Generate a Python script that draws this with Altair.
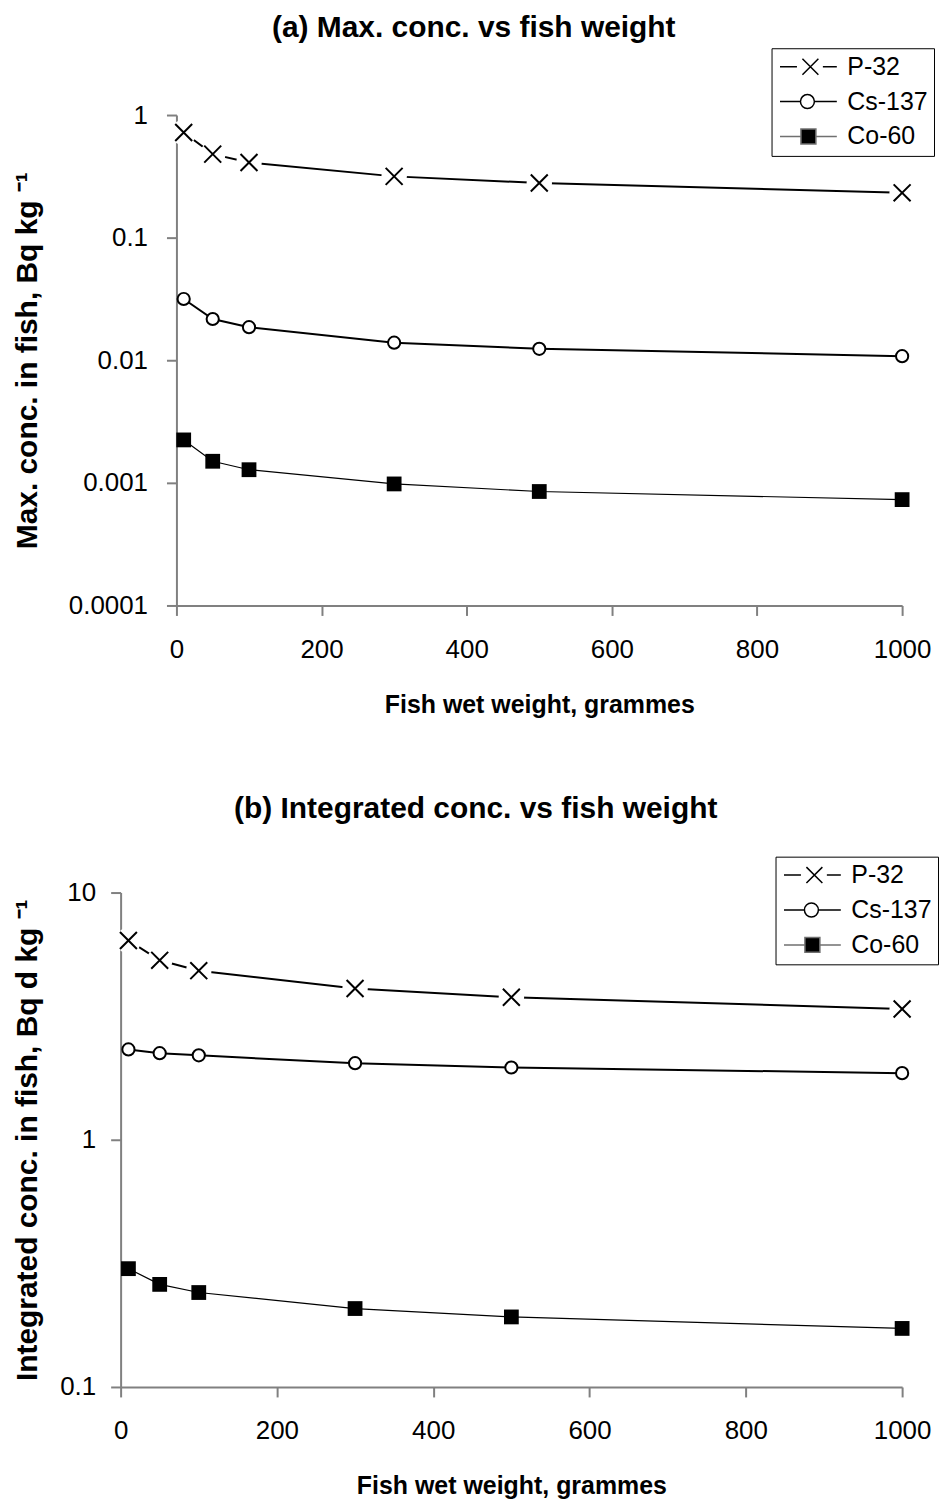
import altair as alt
import pandas as pd

# ---------------- data ----------------
weights = [10, 50, 100, 300, 500, 1000]
series_names = ["P-32", "Cs-137", "Co-60"]

max_p32 = [0.72, 0.48, 0.41, 0.316, 0.279, 0.232]
max_cs137 = [0.0316, 0.0217, 0.0186, 0.0139, 0.0124, 0.0108]
max_co60 = [0.00224, 0.00150, 0.00128, 0.00098, 0.00085, 0.00073]

int_p32 = [6.40, 5.32, 4.83, 4.09, 3.77, 3.38]
int_cs137 = [2.32, 2.24, 2.195, 2.04, 1.96, 1.86]
int_co60 = [0.301, 0.260, 0.241, 0.2076, 0.192, 0.1725]

x_ticks = [0, 200, 400, 600, 800, 1000]
y_ticks_a = [0.0001, 0.001, 0.01, 0.1, 1]
y_ticks_b = [0.1, 1, 10]

FONT = "Liberation Sans"
X_PATH = "M-1,-1L1,1M-1,1L1,-1"
# legend glyphs: line + marker, drawn in units of 10 px starting at x=-1
LEG_P = "M-1,0L0.7,0M3.3,0L4.7,0M1.25,-0.8L2.85,0.8M1.25,0.8L2.85,-0.8"
LEG_C = "M-1,0L1.05,0M2.45,0L4.7,0M1.05,0A0.7,0.7,0,1,1,2.45,0A0.7,0.7,0,1,1,1.05,0Z"
LEG_S = "M-1,0L1.1,0M2.6,0L4.7,0M1.1,-0.75L2.6,-0.75L2.6,0.75L1.1,0.75Z"


def make_df(p, c, s):
    rows = []
    for name, vals in zip(series_names, [p, c, s]):
        for w, v in zip(weights, vals):
            rows.append({"w": w, "v": v, "series": name})
    return pd.DataFrame(rows)


def panel(df, ydomain, yticks, ytitle, title_x, title_y, ylabpad, w, h, xrange,
          yoffset, title, title_offset, legx, legy):
    x = alt.X("w:Q", scale=alt.Scale(domain=[0, 1000], nice=False, zero=False, range=xrange),
              axis=alt.Axis(values=x_ticks, format="d", title="Fish wet weight, grammes",
                            titleY=107, titleBaseline="alphabetic", tickSize=10,
                            labelPadding=21, labelFlush=False, labelOverlap=False))
    y = alt.Y("v:Q", scale=alt.Scale(type="log", domain=ydomain, nice=False),
              axis=alt.Axis(values=yticks, format="~g", title=ytitle, offset=yoffset,
                            titleX=title_x, titleY=title_y, titleAlign="center",
                            titleBaseline="alphabetic", titleAngle=270, titleFontSize=30,
                            tickSize=10, labelPadding=ylabpad, labelFlush=False,
                            labelOverlap=False))
    base = alt.Chart(df).encode(x=x, y=y)

    def sel(name):
        return base.transform_filter(alt.datum.series == name)

    line_p = sel("P-32").mark_line(color="black", strokeWidth=2)
    line_c = sel("Cs-137").mark_line(color="black", strokeWidth=2)
    line_s = sel("Co-60").mark_line(color="black", strokeWidth=1.2)
    gap = sel("P-32").mark_point(shape="circle", filled=True, fill="white",
                                 size=650, opacity=1, strokeWidth=0)
    mk_p = sel("P-32").mark_point(shape=X_PATH, size=289, color="black",
                                  strokeWidth=2, filled=False, opacity=1)
    mk_c = sel("Cs-137").mark_point(shape="circle", size=150, filled=True,
                                    fill="white", stroke="black", strokeWidth=2,
                                    opacity=1)
    mk_s = sel("Co-60").mark_point(shape="square", size=220, filled=True,
                                   color="black", opacity=1)

    leg = alt.Legend(title=None, orient="none", legendX=legx, legendY=legy,
                     symbolSize=400, symbolStrokeWidth=1.5, labelFontSize=25,
                     labelFont=FONT, labelColor="black", labelOffset=45,
                     strokeColor="black", fillColor="white", padding=6,
                     rowPadding=9, symbolOpacity=1)
    legend_layer = base.transform_filter(alt.datum.w < 0).mark_point(
        filled=True, strokeWidth=1.5
    ).encode(
        shape=alt.Shape("series:N", scale=alt.Scale(domain=series_names,
                                                     range=[LEG_P, LEG_C, LEG_S]),
                        legend=leg),
        fill=alt.Fill("series:N", scale=alt.Scale(domain=series_names,
                                                   range=["white", "white", "black"]),
                      legend=leg),
        stroke=alt.Stroke("series:N", scale=alt.Scale(domain=series_names,
                                                       range=["black", "black", "#707070"]),
                          legend=leg),
    )

    return alt.layer(line_p, line_c, line_s, gap, mk_p, mk_c, mk_s, legend_layer).properties(
        width=w, height=h,
        title=alt.TitleParams(text=title, font=FONT, fontSize=30, fontWeight="bold",
                              anchor="middle", frame="bounds", offset=title_offset,
                              color="black"),
    )


df_a = make_df(max_p32, max_cs137, max_co60)
df_b = make_df(int_p32, int_cs137, int_co60)

# panel (a): plot spans x 176..904, panel (b): x 120..904 (shared origin at 120)
panel_a = panel(df_a, [0.0001, 1], y_ticks_a, "Max. conc. in fish, Bq kg  \u207b\u00b9",
                -140, 246, 19, 784, 492, [56, 784], -56,
                "(a) Max. conc. vs fish weight", 5, 653, -67)
panel_b = panel(df_b, [0.1, 10], y_ticks_b, "Integrated conc. in fish, Bq d kg  \u207b\u00b9",
                -84, 248, 15, 784, 496, [0, 784], 0,
                "(b) Integrated conc. vs fish weight", 32, 657, -36)

chart = alt.ConcatChart(concat=[panel_a, panel_b], columns=1, spacing=77).resolve_scale(
    shape="independent", fill="independent", stroke="independent",
    x="independent", y="independent",
).resolve_legend(
    shape="independent", fill="independent", stroke="independent",
).properties(
    padding={"left": 12, "top": 10, "right": 0, "bottom": 0}
).configure_view(stroke=None).configure_axis(
    grid=False,
    labelFont=FONT, labelFontSize=26, labelColor="black",
    titleFont=FONT, titleFontSize=25, titleFontWeight="bold", titleColor="black",
    domainColor="#808080", domainWidth=2, tickColor="#808080", tickWidth=2,
)

chart.save("out.html", embed_options={"renderer": "svg", "actions": False})
